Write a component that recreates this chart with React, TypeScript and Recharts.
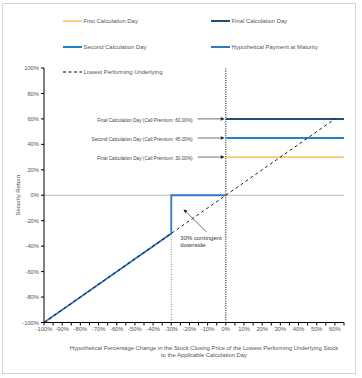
import React from 'react';
import {
  ComposedChart,
  Line,
  XAxis,
  YAxis,
  ReferenceLine,
  ReferenceDot,
  Legend,
} from 'recharts';

// ---------- data ----------
const xTicks = [
  -100, -95, -90, -85, -80, -75, -70, -65, -60, -55, -50, -45, -40, -35, -30, -25, -20, -15, -10, -5,
  0, 5, 10, 15, 20, 25, 30, 35, 40, 45, 50, 55, 60, 65,
];
const xTickLabels = [-100, -90, -80, -70, -60, -50, -40, -30, -20, -10, 0, 10, 20, 30, 40, 50, 60];
const yTicks = [-100, -80, -60, -40, -20, 0, 20, 40, 60, 80, 100];

const lowestX = [-100, 60];
const lowestY = [-100, 60];

const paymentX = [-100, -30, -30, 0];
const paymentY = [-100, -30, 0, 0];

const calcX = [0, 65];
const firstCalcY = [30, 30];
const secondCalcY = [45, 45];
const finalCalcY = [60, 60];

const premiumLabels = [
  { text: 'Final Calculation Day (Call Premium: 60.00%)', value: 60 },
  { text: 'Second Calculation Day (Call Premium: 45.00%)', value: 45 },
  { text: 'Final Calculation Day (Call Premium: 30.00%)', value: 30 },
];

const toPoints = (xs: number[], ys: number[]) => xs.map((x, i) => ({ x, y: ys[i] }));

const lowestData = toPoints(lowestX, lowestY);
const paymentData = toPoints(paymentX, paymentY);
const firstData = toPoints(calcX, firstCalcY);
const secondData = toPoints(calcX, secondCalcY);
const finalData = toPoints(calcX, finalCalcY);

// ---------- styles ----------
const FONT = '"Liberation Sans", Arial, sans-serif';
const TEXT = '#555';
const YELLOW = '#f2b632';
const NAVY = '#1f4e79';
const SECOND_BLUE = '#1f84cc';
const PAY_BLUE = '#2e78c6';

const legendItems = [
  { name: 'First Calculation Day', color: YELLOW, width: 1.2, dash: undefined as string | undefined },
  { name: 'Final Calculation Day', color: NAVY, width: 2, dash: undefined },
  { name: 'Second Calculation Day', color: SECOND_BLUE, width: 2, dash: undefined },
  { name: 'Hypothetical Payment at Maturity', color: PAY_BLUE, width: 2, dash: undefined },
  { name: 'Lowest Performing Underlying', color: '#000', width: 1, dash: '3 2.5' },
];

const LegendContent = () => {
  const cols = [63, 211];
  const rows = [21, 47, 72];
  return (
    <svg width={362} height={80} style={{ display: 'block' }}>
      {legendItems.map((it, i) => {
        const cx = cols[i % 2];
        const cy = rows[Math.floor(i / 2)];
        return (
          <g key={it.name}>
            <line x1={cx} y1={cy} x2={cx + 19} y2={cy} stroke={it.color} strokeWidth={it.width} strokeDasharray={it.dash} />
            <text x={cx + 20.5} y={cy} dominantBaseline="central" fontSize={5.9} fill={TEXT} fontFamily={FONT}>
              {it.name}
            </text>
          </g>
        );
      })}
    </svg>
  );
};

const ArrowShape = (props: any) => {
  const { x1, y1, x2, y2, label } = props;
  const ang = Math.atan2(y2 - y1, x2 - x1);
  const L = 4;
  const W = 1.8;
  const bx = x2 - L * Math.cos(ang);
  const by = y2 - L * Math.sin(ang);
  const px = -Math.sin(ang) * W;
  const py = Math.cos(ang) * W;
  return (
    <g>
      <line x1={x1} y1={y1} x2={bx} y2={by} stroke="#333" strokeWidth={0.7} />
      <polygon points={`${x2},${y2} ${bx + px},${by + py} ${bx - px},${by - py}`} fill="#222" />
      {label ? (
        <text x={x1 - 5} y={y1 + 1.5} textAnchor="end" dominantBaseline="central" fontSize={4.7} fill="#444" fontFamily={FONT}>
          {label}
        </text>
      ) : null}
    </g>
  );
};

const DownsideText = (props: any) => {
  const { cx, cy } = props;
  return (
    <text x={cx} y={cy} fontSize={6} fill="#333" fontFamily={FONT}>
      <tspan x={cx} dy={0}>30% contingent</tspan>
      <tspan x={cx} dy={6.8}>downside</tspan>
    </text>
  );
};

const tickStyle = { fontSize: 5.8, fill: TEXT, fontFamily: FONT };

export default function App() {
  return (
    <div style={{ position: 'absolute', left: 0, top: 0, width: 362, height: 378, background: '#fff' }}>
      <div
        style={{
          position: 'absolute',
          left: 2,
          top: 3,
          width: 354,
          height: 371,
          border: '1px solid #d4d4d4',
          boxSizing: 'border-box',
        }}
      />
      <ComposedChart
        width={362}
        height={378}
        margin={{ top: 68, right: 18, bottom: 35.5, left: 14 }}
        style={{ position: 'absolute', left: 0, top: 0 }}
      >
        <XAxis
          dataKey="x"
          type="number"
          domain={[-100, 65]}
          ticks={xTicks}
          interval={0}
          allowDataOverflow
          height={20}
          tickSize={3}
          tickMargin={1.5}
          stroke="#000"
          tick={tickStyle}
          tickFormatter={(v: number) => (xTickLabels.includes(v) ? `${v}%` : '')}
          label={{
            content: (p: any) => {
              const vb = p.viewBox;
              const cx = vb.x + vb.width / 2 + 10;
              return (
                <text x={cx} y={vb.y + 27.5} textAnchor="middle" fontSize={5.9} fill={TEXT} fontFamily={FONT}>
                  <tspan x={cx} dy={0}>
                    Hypothetical Percentage Change in the Stock Closing Price of the Lowest Performing Underlying Stock
                  </tspan>
                  <tspan x={cx} dy={6.8}>to the Applicable Calculation Day</tspan>
                </text>
              );
            },
          }}
        />
        <YAxis
          type="number"
          domain={[-100, 100]}
          ticks={yTicks}
          interval={0}
          width={30}
          tickSize={3}
          tickMargin={2}
          stroke="#000"
          tick={tickStyle}
          tickFormatter={(v: number) => `${v}%`}
          label={{
            content: (p: any) => {
              const vb = p.viewBox;
              const x = vb.x + 3.5;
              const y = vb.y + vb.height / 2;
              return (
                <text
                  x={x}
                  y={y}
                  transform={`rotate(-90 ${x} ${y})`}
                  textAnchor="middle"
                  dominantBaseline="central"
                  fontSize={5.9}
                  fill={TEXT}
                  fontFamily={FONT}
                >
                  Security Return
                </text>
              );
            },
          }}
        />
        <Legend
          layout="horizontal"
          verticalAlign="middle"
          align="center"
          wrapperStyle={{ top: 0, left: 0, width: 362, height: 80 }}
          content={() => <LegendContent />}
        />

        <ReferenceLine y={0} stroke="#bdbdbd" strokeWidth={1} />
        <ReferenceLine x={0} stroke="#000" strokeWidth={1} strokeDasharray="1 1.3" />
        <ReferenceLine
          segment={[
            { x: -30, y: -100 },
            { x: -30, y: -30 },
          ]}
          stroke="#8a8a8a"
          strokeWidth={1}
          strokeDasharray="1 1.5"
        />

        <Line
          data={firstData}
          dataKey="y"
          name="First Calculation Day"
          stroke={YELLOW}
          strokeWidth={1.2}
          dot={false}
          activeDot={false}
          isAnimationActive={false}
        />
        <Line
          data={finalData}
          dataKey="y"
          name="Final Calculation Day"
          stroke={NAVY}
          strokeWidth={2}
          dot={false}
          activeDot={false}
          isAnimationActive={false}
        />
        <Line
          data={secondData}
          dataKey="y"
          name="Second Calculation Day"
          stroke={SECOND_BLUE}
          strokeWidth={2}
          dot={false}
          activeDot={false}
          isAnimationActive={false}
        />
        <Line
          data={paymentData}
          dataKey="y"
          name="Hypothetical Payment at Maturity"
          stroke={PAY_BLUE}
          strokeWidth={1.8}
          dot={false}
          activeDot={false}
          isAnimationActive={false}
        />
        <Line
          data={lowestData}
          dataKey="y"
          name="Lowest Performing Underlying"
          stroke="#000"
          strokeWidth={0.9}
          strokeDasharray="3 3"
          dot={false}
          activeDot={false}
          isAnimationActive={false}
        />

        {premiumLabels.map((p) => (
          <ReferenceLine
            key={p.text}
            segment={[
              { x: -15.5, y: p.value },
              { x: -0.6, y: p.value },
            ]}
            shape={(sp: any) => <ArrowShape {...sp} label={p.text} />}
          />
        ))}
        <ReferenceLine
          segment={[
            { x: -10.5, y: -29 },
            { x: -23.3, y: -11 },
          ]}
          shape={(sp: any) => <ArrowShape {...sp} />}
        />
        <ReferenceDot x={-25} y={-35.5} r={0} shape={(sp: any) => <DownsideText {...sp} />} />
      </ComposedChart>
    </div>
  );
}
